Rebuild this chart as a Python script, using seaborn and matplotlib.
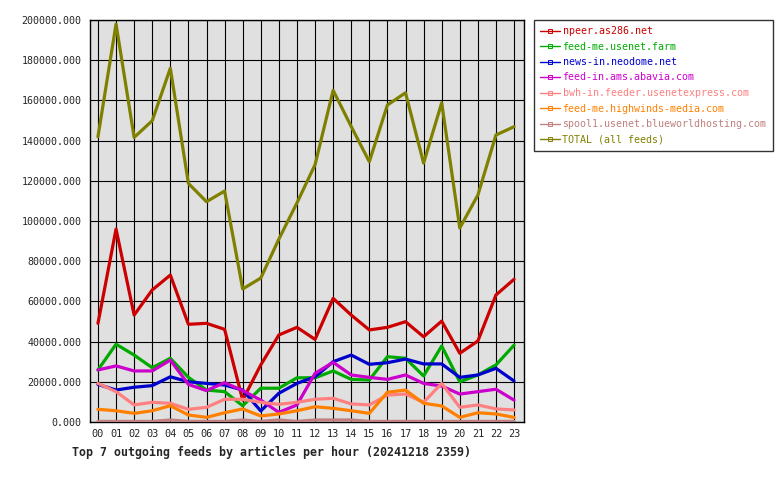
import pandas as pd
import seaborn as sns
import matplotlib.pyplot as plt
from matplotlib.lines import Line2D

hours = ['%02d' % h for h in range(24)]
feeds = ['npeer.as286.net', 'feed-me.usenet.farm', 'news-in.neodome.net',
         'feed-in.ams.abavia.com', 'bwh-in.feeder.usenetexpress.com',
         'feed-me.highwinds-media.com', 'spool1.usenet.blueworldhosting.com',
         'TOTAL (all feeds)']
colors = ['#cc0000', '#00aa00', '#0000cc', '#cc00cc', '#ff8080', '#ff8000', '#c08080', '#808000']

npeer = [49100, 96000, 53200, 65700, 73100, 48600, 49100, 46100, 10900, 28400, 43300, 47100,
         41100, 61500, 53200, 45800, 47100, 49900, 42400, 50200, 34200, 40300, 63200, 71000]
usenet_farm = [25900, 38700, 33300, 27000, 31700, 22200, 15900, 15100, 8100, 16800, 16800, 22000,
               22000, 25400, 21200, 20900, 32500, 31700, 22900, 37800, 20000, 23400, 28400, 38200]
neodome = [18700, 15900, 17300, 18100, 22500, 20000, 19200, 18400, 15900, 5500, 14300, 19200,
           22500, 30000, 33300, 28700, 29500, 31300, 28900, 28900, 22200, 23400, 26700, 20400]
abavia = [25900, 27900, 25400, 25400, 30800, 18700, 15600, 19600, 15600, 10900, 4800, 8500,
          24200, 29700, 23400, 22200, 21200, 23400, 19200, 17900, 13900, 15100, 16300, 10900]
usenetexpress = [19200, 15100, 8500, 9800, 9300, 6300, 7300, 11300, 11300, 9800, 8800, 9800,
                 11300, 11800, 9000, 8500, 13400, 13900, 9800, 19200, 7300, 8500, 6500, 6000]
highwinds = [6300, 5600, 4300, 5600, 8100, 3500, 2300, 4600, 6500, 3000, 4000, 5600,
             7600, 6800, 5600, 4300, 14800, 15900, 9300, 8000, 2300, 4600, 4000, 2300]
blueworld = [300, 300, 300, 300, 1000, 300, 300, 300, 1000, 300, 1000, 300,
             1000, 1000, 1000, 300, 300, 300, 300, 300, 300, 300, 300, 300]
total = [141900, 198000, 141600, 149900, 176000, 118700, 109600, 114900, 66200, 71600, 91000, 109000,
         128000, 165000, 147000, 129500, 157700, 163800, 128800, 158800, 96500, 112900, 142800, 146900]

series = [npeer, usenet_farm, neodome, abavia, usenetexpress, highwinds, blueworld, total]
rows = []
for name, vals in zip(feeds, series):
    for i, v in enumerate(vals):
        rows.append({'hour': i, 'feed': name, 'articles': v})
df = pd.DataFrame(rows)

sns.set_style('white')
plt.rcParams['font.family'] = ['DejaVu Sans Mono']

fig = plt.figure(figsize=(7.8, 4.8), dpi=100)
ax = fig.add_axes([90 / 780, 1 - 422 / 480, (524 - 90) / 780, (422 - 20) / 480])
ax.set_facecolor('#e0e0e0')

sns.lineplot(data=df, x='hour', y='articles', hue='feed', hue_order=feeds,
             palette=colors, linewidth=2.3, ax=ax, legend=False, zorder=3)

ax.set_xlim(-0.44, 23.55)
ax.set_ylim(0, 200000)
ax.set_xticks(range(24))
ax.set_xticklabels(hours, fontsize=7.4)
ax.set_yticks(range(0, 200001, 20000))
ax.set_yticklabels(['%.3f' % v for v in range(0, 200001, 20000)], fontsize=7.2)
ax.grid(True, color='black', linewidth=0.8)
ax.set_axisbelow(True)
ax.tick_params(axis='y', direction='out', length=4, width=0.8, color='black', pad=2)
ax.tick_params(axis='x', direction='out', length=0, pad=5)
for s in ax.spines.values():
    s.set_color('black')
    s.set_linewidth(1)
ax.set_xlabel('')
ax.set_ylabel('')

fig.text(72 / 780, 1 - 452 / 480, 'Top 7 outgoing feeds by articles per hour (20241218 2359)',
         fontsize=8.4, fontweight='bold', va='center', ha='left')

handles = [Line2D([0], [0], color=c, linewidth=1.0, marker='s', markersize=2.2,
                  markerfacecolor='none', markeredgewidth=0.7) for c in colors]
leg = fig.legend(handles, feeds, loc='upper left',
                 bbox_to_anchor=(534 / 780, 1 - 20 / 480), bbox_transform=fig.transFigure,
                 fontsize=7.2, frameon=True, fancybox=False, handlelength=2.0,
                 handletextpad=0.25, labelspacing=0.55, borderpad=0.6, borderaxespad=0)
leg.get_frame().set_edgecolor('black')
leg.get_frame().set_linewidth(1)
for t, c in zip(leg.get_texts(), colors):
    t.set_color(c)

fig.savefig('out.png', dpi=100)
